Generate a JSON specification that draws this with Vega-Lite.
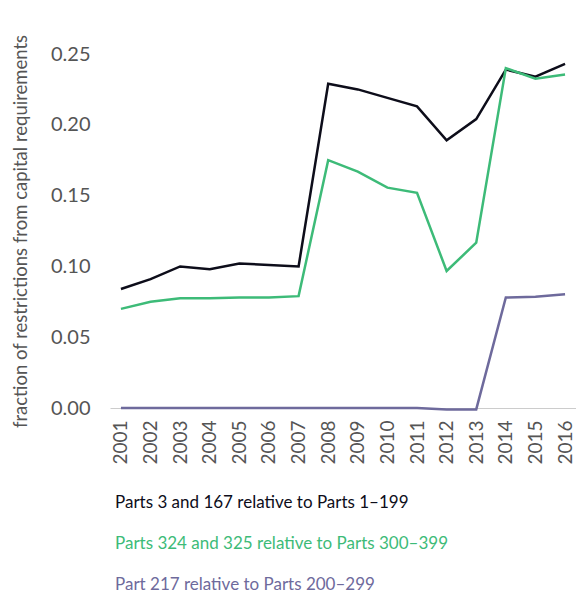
{
  "$schema": "https://vega.github.io/schema/vega-lite/v6.json",
  "width": 576,
  "height": 593,
  "autosize": {"type": "fit", "contains": "padding"},
  "padding": {"left": 11, "top": 44, "right": 0, "bottom": 0},
  "config": {"view": {"stroke": null}, "font": "Lato"},
  "data": {"values": [
    {"year": "2001", "series": "Parts 3 and 167 relative to Parts 1–199", "value": 0.084},
    {"year": "2002", "series": "Parts 3 and 167 relative to Parts 1–199", "value": 0.091},
    {"year": "2003", "series": "Parts 3 and 167 relative to Parts 1–199", "value": 0.100},
    {"year": "2004", "series": "Parts 3 and 167 relative to Parts 1–199", "value": 0.098},
    {"year": "2005", "series": "Parts 3 and 167 relative to Parts 1–199", "value": 0.102},
    {"year": "2006", "series": "Parts 3 and 167 relative to Parts 1–199", "value": 0.101},
    {"year": "2007", "series": "Parts 3 and 167 relative to Parts 1–199", "value": 0.100},
    {"year": "2008", "series": "Parts 3 and 167 relative to Parts 1–199", "value": 0.229},
    {"year": "2009", "series": "Parts 3 and 167 relative to Parts 1–199", "value": 0.225},
    {"year": "2010", "series": "Parts 3 and 167 relative to Parts 1–199", "value": 0.219},
    {"year": "2011", "series": "Parts 3 and 167 relative to Parts 1–199", "value": 0.213},
    {"year": "2012", "series": "Parts 3 and 167 relative to Parts 1–199", "value": 0.189},
    {"year": "2013", "series": "Parts 3 and 167 relative to Parts 1–199", "value": 0.204},
    {"year": "2014", "series": "Parts 3 and 167 relative to Parts 1–199", "value": 0.239},
    {"year": "2015", "series": "Parts 3 and 167 relative to Parts 1–199", "value": 0.234},
    {"year": "2016", "series": "Parts 3 and 167 relative to Parts 1–199", "value": 0.243},
    {"year": "2001", "series": "Parts 324 and 325 relative to Parts 300–399", "value": 0.070},
    {"year": "2002", "series": "Parts 324 and 325 relative to Parts 300–399", "value": 0.075},
    {"year": "2003", "series": "Parts 324 and 325 relative to Parts 300–399", "value": 0.0775},
    {"year": "2004", "series": "Parts 324 and 325 relative to Parts 300–399", "value": 0.0775},
    {"year": "2005", "series": "Parts 324 and 325 relative to Parts 300–399", "value": 0.078},
    {"year": "2006", "series": "Parts 324 and 325 relative to Parts 300–399", "value": 0.078},
    {"year": "2007", "series": "Parts 324 and 325 relative to Parts 300–399", "value": 0.079},
    {"year": "2008", "series": "Parts 324 and 325 relative to Parts 300–399", "value": 0.175},
    {"year": "2009", "series": "Parts 324 and 325 relative to Parts 300–399", "value": 0.167},
    {"year": "2010", "series": "Parts 324 and 325 relative to Parts 300–399", "value": 0.1556},
    {"year": "2011", "series": "Parts 324 and 325 relative to Parts 300–399", "value": 0.152},
    {"year": "2012", "series": "Parts 324 and 325 relative to Parts 300–399", "value": 0.0968},
    {"year": "2013", "series": "Parts 324 and 325 relative to Parts 300–399", "value": 0.1167},
    {"year": "2014", "series": "Parts 324 and 325 relative to Parts 300–399", "value": 0.240},
    {"year": "2015", "series": "Parts 324 and 325 relative to Parts 300–399", "value": 0.2326},
    {"year": "2016", "series": "Parts 324 and 325 relative to Parts 300–399", "value": 0.2356},
    {"year": "2001", "series": "Part 217 relative to Parts 200–299", "value": 0.0},
    {"year": "2002", "series": "Part 217 relative to Parts 200–299", "value": 0.0},
    {"year": "2003", "series": "Part 217 relative to Parts 200–299", "value": 0.0},
    {"year": "2004", "series": "Part 217 relative to Parts 200–299", "value": 0.0},
    {"year": "2005", "series": "Part 217 relative to Parts 200–299", "value": 0.0},
    {"year": "2006", "series": "Part 217 relative to Parts 200–299", "value": 0.0},
    {"year": "2007", "series": "Part 217 relative to Parts 200–299", "value": 0.0},
    {"year": "2008", "series": "Part 217 relative to Parts 200–299", "value": 0.0},
    {"year": "2009", "series": "Part 217 relative to Parts 200–299", "value": 0.0},
    {"year": "2010", "series": "Part 217 relative to Parts 200–299", "value": 0.0},
    {"year": "2011", "series": "Part 217 relative to Parts 200–299", "value": 0.0},
    {"year": "2012", "series": "Part 217 relative to Parts 200–299", "value": -0.001},
    {"year": "2013", "series": "Part 217 relative to Parts 200–299", "value": -0.001},
    {"year": "2014", "series": "Part 217 relative to Parts 200–299", "value": 0.078},
    {"year": "2015", "series": "Part 217 relative to Parts 200–299", "value": 0.0786},
    {"year": "2016", "series": "Part 217 relative to Parts 200–299", "value": 0.0803}
  ]},
  "mark": {"type": "line", "strokeWidth": 2.5, "clip": false},
  "encoding": {
    "x": {
      "field": "year", "type": "ordinal",
      "scale": {"type": "point", "padding": 0.37},
      "axis": {"title": null, "labelAngle": -90, "labelFontSize": 19, "labelColor": "#555555",
               "ticks": false, "domainColor": "#cccccc", "labelPadding": 12, "grid": false}
    },
    "y": {
      "field": "value", "type": "quantitative",
      "scale": {"domain": [0, 0.25], "nice": false, "zero": false},
      "axis": {"title": "fraction of restrictions from capital requirements", "titleFontSize": 18.5,
               "titleFontWeight": "normal", "titleColor": "#555555", "titlePadding": 20,
               "labelFontSize": 20, "labelColor": "#555555", "format": ".2f",
               "values": [0, 0.05, 0.1, 0.15, 0.2, 0.25],
               "ticks": false, "domain": false, "grid": false, "labelPadding": 20}
    },
    "color": {
      "field": "series", "type": "nominal",
      "scale": {
        "domain": ["Parts 3 and 167 relative to Parts 1–199", "Parts 324 and 325 relative to Parts 300–399", "Part 217 relative to Parts 200–299"],
        "range": ["#0d0d1a", "#3dbb78", "#6e6a9c"]
      },
      "legend": {
        "title": null, "orient": "bottom", "direction": "vertical", "columns": 1,
        "labelFontSize": 17, "symbolSize": 0, "symbolStrokeWidth": 0, "symbolOpacity": 0,
        "rowPadding": 23, "labelOffset": -12, "offset": 29,
        "labelLimit": 500,
        "encode": {"labels": {"update": {"fill": {"scale": "color", "field": "value"}}}}
      }
    }
  }
}
